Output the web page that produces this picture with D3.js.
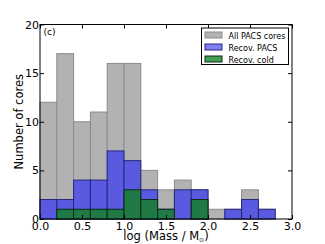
<!DOCTYPE html>
<html>
<head>
<meta charset="utf-8">
<script src="https://cdn.jsdelivr.net/npm/d3@7"></script>
<style>
  body { margin: 0; background: #fff; }
  svg text { font-family: "DejaVu Sans", sans-serif; fill: #000; }
</style>
</head>
<body>
<div id="grafica"></div>
<script>
// Bordes de los bins (log masa)
const binEdges = [0.0, 0.2, 0.4, 0.6, 0.8, 1.0, 1.2, 1.4, 1.6, 1.8, 2.0, 2.2, 2.4, 2.6, 2.8, 3.0];
// Conteos por serie
const allPacs   = [12, 17, 10, 11, 16, 16, 5, 3, 4, 3, 1, 1, 3, 1, 0];
const recovPacs = [2, 2, 4, 4, 7, 6, 3, 1, 3, 3, 0, 1, 2, 1, 0];
const recovCold = [0, 1, 1, 1, 1, 3, 2, 1, 0, 2, 0, 0, 0, 0, 0];
const xTicks = [0.0, 0.5, 1.0, 1.5, 2.0, 2.5, 3.0];
const yTicks = [0, 5, 10, 15, 20];

const series = [
  {name: "All PACS cores", values: allPacs, fill: "#b2b2b2", stroke: "#8c8c8c", legend: "#b2b2b2"},
  {name: "Recov. PACS", values: recovPacs, fill: "#5a5ae0", stroke: "#262680", legend: "#8080f2"},
  {name: "Recov. cold", values: recovCold, fill: "#1f7a45", stroke: "#0a2a16", legend: "#45a052"}
];

const W = 325, H = 244;
const margin = {top: 24.5, right: 33, bottom: 25, left: 40};
const width = W - margin.left - margin.right;
const height = H - margin.top - margin.bottom;

const x = d3.scaleLinear().domain([0, 3]).range([0, width]);
const y = d3.scaleLinear().domain([0, 20]).range([height, 0]);

const svg = d3.select("#grafica").append("svg")
  .attr("width", W).attr("height", H)
  .append("g")
  .attr("transform", "translate(" + margin.left + "," + margin.top + ")");

// Barras de cada serie
series.forEach(function(s) {
  svg.append("g").selectAll("rect")
    .data(s.values.map(function(v, i) { return {x0: binEdges[i], x1: binEdges[i + 1], v: v}; })
      .filter(function(d) { return d.v > 0; }))
    .enter().append("rect")
    .attr("x", function(d) { return x(d.x0); })
    .attr("y", function(d) { return y(d.v); })
    .attr("width", function(d) { return x(d.x1) - x(d.x0); })
    .attr("height", function(d) { return y(0) - y(d.v); })
    .attr("fill", s.fill)
    .attr("stroke", s.stroke)
    .attr("stroke-width", 1);
});

// Ejes con ticks hacia dentro
const xAxis = d3.axisBottom(x).tickValues(xTicks).tickFormat(d3.format(".1f")).tickSizeInner(-4).tickSizeOuter(0).tickPadding(3);
const yAxis = d3.axisLeft(y).tickValues(yTicks).tickSizeInner(-4).tickSizeOuter(0).tickPadding(1);

const gx = svg.append("g").attr("transform", "translate(0," + height + ")").call(xAxis);
const gy = svg.append("g").call(yAxis);
const gxTop = svg.append("g").call(d3.axisTop(x).tickValues(xTicks).tickSize(-4).tickFormat(""));
const gyRight = svg.append("g").attr("transform", "translate(" + width + ",0)")
  .call(d3.axisRight(y).tickValues(yTicks).tickSize(-4).tickFormat(""));

[gx, gy, gxTop, gyRight].forEach(function(g) {
  g.select(".domain").remove();
  g.selectAll("line").attr("stroke", "#000");
  g.selectAll("text").style("font-size", "11px").attr("fill", "#000");
});

// Marco
svg.append("rect").attr("width", width).attr("height", height)
  .attr("fill", "none").attr("stroke", "#000").attr("stroke-width", 1);

// Etiqueta del panel
svg.append("text").attr("x", 3.5).attr("y", 10).style("font-size", "9px").text("(c)");

// Títulos de ejes
svg.append("text")
  .attr("transform", "translate(" + (-17) + "," + (height / 2) + ") rotate(-90)")
  .attr("text-anchor", "middle").style("font-size", "11.5px")
  .text("Number of cores");

const xl = svg.append("text").attr("x", width / 2).attr("y", height + 21)
  .attr("text-anchor", "middle").style("font-size", "11.5px");
xl.append("tspan").text("log (Mass / M");
xl.append("tspan").attr("dy", 1.5).style("font-size", "6px").text("\u2299");
xl.append("tspan").attr("dy", -1.5).text(")");

// Leyenda
const leg = svg.append("g").attr("transform", "translate(" + (width - 90.5) + ",3.5)");
leg.append("rect").attr("width", 87).attr("height", 36.5)
  .attr("fill", "#fff").attr("stroke", "#000");
series.forEach(function(s, i) {
  const row = leg.append("g").attr("transform", "translate(0," + (i * 12) + ")");
  row.append("rect").attr("x", 3.5).attr("y", 4).attr("width", 17).attr("height", 6)
    .attr("fill", s.legend).attr("stroke", s.stroke);
  row.append("text").attr("x", 27).attr("y", 10.5).style("font-size", "8px").text(s.name);
});
</script>
</body>
</html>
